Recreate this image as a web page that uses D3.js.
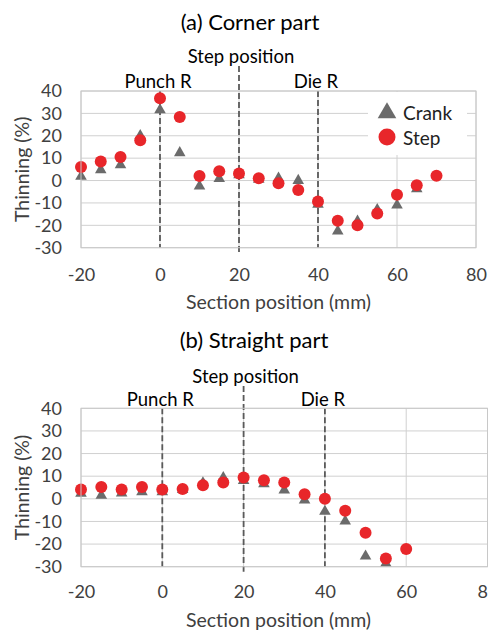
<!DOCTYPE html>
<html>
<head>
<meta charset="utf-8">
<script src="https://cdn.jsdelivr.net/npm/d3@7"></script>
<style>
  body { margin: 0; background: #fff; }
  svg text { font-family: Lato, "Open Sans", sans-serif; }
</style>
</head>
<body>
<div id="chart"></div>
<script>
// section positions (mm)
const cornerPositions = [-20, -15, -10, -5, 0, 5, 10, 15, 20, 25, 30, 35, 40, 45, 50, 55, 60, 65, 70];
const cornerCrank = [1.8, 4.8, 7, 20, 31.5, 12.4, -2.5, 0.8, 2.5, 0.5, 1, 0, -10.7, -22.6, -18.2, -13, -11, -3.7, null];
const cornerStep = [6, 8.5, 10.5, 18, 36.8, 28.4, 2, 4.2, 3.1, 1, -1.2, -4.2, -9.4, -18, -20, -14.7, -6.3, -2.1, 2.1];

const straightPositions = [-20, -15, -10, -5, 0, 5, 10, 15, 20, 25, 30, 35, 40, 45, 50, 55, 60];
const straightCrank = [2.4, 1.5, 2.5, 3, 3, 4, 7, 9.3, 8, 6.6, 3.8, -0.6, -5.6, -9.9, -25.3, -28.6, null];
const straightStep = [4.1, 5.2, 4.1, 5.2, 4.1, 4.3, 6, 7.2, 9.4, 8.2, 7.2, 2, 0, -5.3, -15, -26.4, -22.2];

const xTicks = [-20, 0, 20, 40, 60, 80];
const yTicks = [-30, -20, -10, 0, 10, 20, 30, 40];
const markers = [
  { pos: 0, label: 'Punch R' },
  { pos: 20, label: 'Step position' },
  { pos: 40, label: 'Die R' }
];
const seriesNames = ['Crank', 'Step'];

const width = 488, height = 632;
const red = '#e8262a', gray = '#6b6b6b';

const svg = d3.select('#chart').append('svg')
  .attr('width', width)
  .attr('height', height);

const tri = d3.symbol().type(d3.symbolTriangle);
const fmt = d => String(d); // plain hyphen minus like Excel

function drawPanel(opts) {
  const x = d3.scaleLinear().domain([-20, 80]).range([opts.left, opts.right]);
  const y = d3.scaleLinear().domain([-30, 40]).range([opts.bottom, opts.top]);
  const g = svg.append('g');

  // title
  g.append('text')
    .attr('x', opts.titleX)
    .attr('y', opts.titleY)
    .attr('text-anchor', 'middle')
    .style('font-size', '22px')
    .attr('fill', '#000')
    .text(opts.title);

  // gridlines
  g.append('g').selectAll('line.h')
    .data(yTicks)
    .enter().append('line')
    .attr('x1', opts.left).attr('x2', opts.right)
    .attr('y1', d => y(d)).attr('y2', d => y(d))
    .attr('stroke', '#d0d0d0').attr('stroke-width', 1);
  g.append('g').selectAll('line.v')
    .data(xTicks)
    .enter().append('line')
    .attr('x1', d => x(d)).attr('x2', d => x(d))
    .attr('y1', opts.top).attr('y2', opts.bottom)
    .attr('stroke', '#d0d0d0').attr('stroke-width', 1);

  // axes (labels only, Excel style)
  const yAxis = g.append('g')
    .attr('transform', `translate(${opts.left},0)`)
    .call(d3.axisLeft(y).tickValues(yTicks).tickFormat(fmt).tickSize(0).tickPadding(19));
  yAxis.select('.domain').remove();
  yAxis.selectAll('text').style('font-size', '18px').attr('fill', '#404040');

  const xAxis = g.append('g')
    .attr('transform', `translate(0,${opts.bottom})`)
    .call(d3.axisBottom(x).tickValues(xTicks).tickFormat(fmt).tickSize(0).tickPadding(opts.xPad));
  xAxis.select('.domain').remove();
  xAxis.selectAll('text').style('font-size', '18px').attr('fill', '#404040');

  g.append('text')
    .attr('transform', `translate(${opts.yTitleX},${(opts.top + opts.bottom) / 2}) rotate(-90)`)
    .attr('text-anchor', 'middle')
    .attr('dy', '0.35em')
    .style('font-size', '19.5px')
    .attr('fill', '#404040')
    .text('Thinning (%)');

  g.append('text')
    .attr('x', (opts.left + Math.min(opts.right, 476)) / 2)
    .attr('y', opts.xTitleY)
    .attr('text-anchor', 'middle')
    .style('font-size', '19.5px')
    .attr('fill', '#404040')
    .text('Section position (mm)');

  // dashed reference lines
  g.append('g').selectAll('line')
    .data(markers)
    .enter().append('line')
    .attr('x1', d => x(d.pos)).attr('x2', d => x(d.pos))
    .attr('y1', d => d.pos === 20 ? opts.stepLineTop : opts.top)
    .attr('y2', d => d.pos === 20 ? opts.bottom + 5 : opts.bottom)
    .attr('stroke', '#5a5a5a')
    .attr('stroke-width', 1.8)
    .attr('stroke-dasharray', '6,3');

  g.append('g').selectAll('text')
    .data(markers)
    .enter().append('text')
    .attr('x', d => x(d.pos) + (d.pos === 20 ? 2 : -2))
    .attr('y', d => d.pos === 20 ? opts.stepLabelY : opts.markerLabelY)
    .attr('text-anchor', 'middle')
    .style('font-size', '18.5px')
    .attr('fill', '#000')
    .text(d => d.label);

  // legend (panel a only)
  if (opts.legend) {
    const lg = g.append('g');
    lg.append('rect')
      .attr('x', 368).attr('y', opts.top + 1)
      .attr('width', 99).attr('height', 63)
      .attr('fill', '#fff');
    lg.append('path')
      .attr('d', d3.symbol().type(d3.symbolTriangle).size(150)())
      .attr('transform', `translate(387,${opts.top + 22})`)
      .attr('fill', gray);
    lg.append('circle')
      .attr('cx', 387).attr('cy', opts.top + 46).attr('r', 8.5)
      .attr('fill', red);
    lg.selectAll('text')
      .data(seriesNames)
      .enter().append('text')
      .attr('x', 403)
      .attr('y', (d, i) => opts.top + 22 + i * 25)
      .attr('dy', '0.35em')
      .style('font-size', '19px')
      .attr('fill', '#222')
      .text(d => d);
  }

  // data points: triangles first, circles on top
  const crank = opts.positions.map((p, i) => ({ p, v: opts.crank[i] })).filter(d => d.v !== null);
  const step = opts.positions.map((p, i) => ({ p, v: opts.step[i] })).filter(d => d.v !== null);

  g.append('g').selectAll('path')
    .data(crank)
    .enter().append('path')
    .attr('d', tri.size(58)())
    .attr('transform', d => `translate(${x(d.p)},${y(d.v)})`)
    .attr('fill', gray);

  g.append('g').selectAll('circle')
    .data(step)
    .enter().append('circle')
    .attr('cx', d => x(d.p))
    .attr('cy', d => y(d.v))
    .attr('r', 6)
    .attr('fill', red);

  // plot border
  g.append('rect')
    .attr('x', opts.left).attr('y', opts.top)
    .attr('width', opts.right - opts.left).attr('height', opts.bottom - opts.top)
    .attr('fill', 'none')
    .attr('stroke', '#c8c8c8');
}

drawPanel({
  title: '(a) Corner part', titleX: 250, titleY: 30,
  left: 81, right: 476, top: 91, bottom: 247.7,
  xPad: 21, xTitleY: 309, yTitleX: 22,
  stepLineTop: 66, stepLabelY: 63, markerLabelY: 88,
  positions: cornerPositions, crank: cornerCrank, step: cornerStep,
  legend: true
});

drawPanel({
  title: '(b) Straight part', titleX: 254, titleY: 348,
  left: 81, right: 487.5, top: 408.3, bottom: 566.7,
  xPad: 19, xTitleY: 627, yTitleX: 22,
  stepLineTop: 386, stepLabelY: 383, markerLabelY: 406,
  positions: straightPositions, crank: straightCrank, step: straightStep,
  legend: false
});
</script>
</body>
</html>
